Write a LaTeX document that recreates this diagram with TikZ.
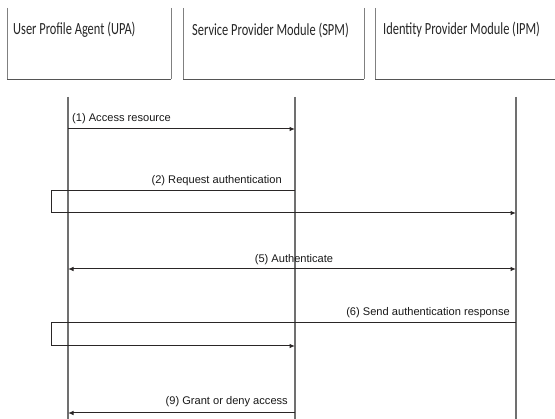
\documentclass[tikz,border=0pt]{standalone}
\usepackage{fontspec}
\setmainfont{Liberation Sans}
\newfontfamily\headfont{Carlito}[FakeStretch=0.73]
\usetikzlibrary{arrows.meta}
\definecolor{lifegray}{HTML}{707070}
\definecolor{boxgray}{HTML}{808080}
\definecolor{shadowgray}{HTML}{555555}
\definecolor{msgdark}{HTML}{2A2626}
\tikzset{
  headtext/.style={anchor=west, inner sep=0pt, font=\headfont\fontsize{17}{19}\selectfont, text=black!85},
  boxedge/.style={draw=boxgray, line width=0.9pt},
  boxshadow/.style={draw=shadowgray, line width=1.8pt},
  lifeline/.style={draw=lifegray, line width=1.3pt},
  msg/.style={draw=msgdark, line width=1pt},
  msgarrow/.style={msg, -{Latex[length=5.5pt,width=4.5pt]}},
  msgboth/.style={msg, {Latex[length=5.5pt,width=4.5pt]}-{Latex[length=5.5pt,width=4.5pt]}},
  msglabel/.style={inner sep=0pt, font=\fontsize{11.1}{13}\selectfont, text=black!90},
}
\begin{document}
\begin{tikzpicture}[x=1pt, y=-1pt]
  \useasboundingbox[fill=white] (0,0) rectangle (555,419);

  % header boxes (open at the top, shadowed at the bottom)
  \draw[boxedge] (7,8) -- (7,79);
  \draw[boxedge] (171,8) -- (171,79);
  \draw[boxshadow] (7,79.5) -- (171,79.5);
  \draw[boxedge] (183,8) -- (183,79);
  \draw[boxedge] (364,8) -- (364,79);
  \draw[boxshadow] (183,79.5) -- (364,79.5);
  \draw[boxedge] (375,8) -- (375,79);
  \draw[boxshadow] (375,79.5) -- (556,79.5);

  \node[headtext] (upa) at (13,30) {User Profile Agent (UPA)};
  \node[headtext] (spm) at (192,30) {Service Provider Module (SPM)};
  \node[headtext] (ipm) at (383,30) {Identity Provider Module (IPM)};

  % lifelines
  \coordinate (upaTop) at (68,97);
  \coordinate (upaBot) at (68,420);
  \coordinate (spmTop) at (295,97);
  \coordinate (spmBot) at (295,420);
  \coordinate (ipmTop) at (516,97);
  \coordinate (ipmBot) at (516,420);
  \draw[lifeline] (upaTop) -- (upaBot);
  \draw[lifeline] (spmTop) -- (spmBot);
  \draw[lifeline] (ipmTop) -- (ipmBot);

  % (1) UPA -> SPM
  \coordinate (m1a) at (68,129);
  \coordinate (m1b) at (295,129);
  \draw[msgarrow] (m1a) -- (m1b);
  \node[msglabel, anchor=west] (l1) at (72,118.5) {(1) Access resource};

  % (2) SPM -> IPM, redirected through the agent
  \coordinate (m2a) at (295,191);
  \coordinate (m2b) at (516,213);
  \draw[msgarrow] (m2a) -- (51,191) -- (51,213) -- (m2b);
  \node[msglabel, anchor=east] (l2) at (282,180.5) {(2) Request authentication};

  % (5) UPA <-> IPM
  \coordinate (m5a) at (68,269);
  \coordinate (m5b) at (516,269);
  \draw[msgboth] (m5a) -- (m5b);
  \node[msglabel] (l5) at (294,259.5) {(5) Authenticate};

  % (6) IPM -> SPM, redirected through the agent
  \coordinate (m6a) at (516,323);
  \coordinate (m6b) at (295,346);
  \draw[msgarrow] (m6a) -- (51,323) -- (51,346) -- (m6b);
  \node[msglabel, anchor=east] (l6) at (510,312.5) {(6) Send authentication response};

  % (9) SPM -> UPA
  \coordinate (m9a) at (295,413);
  \coordinate (m9b) at (68,413);
  \draw[msgarrow] (m9a) -- (m9b);
  \node[msglabel, anchor=east] (l9) at (288,401.5) {(9) Grant or deny access};
\end{tikzpicture}
\end{document}
